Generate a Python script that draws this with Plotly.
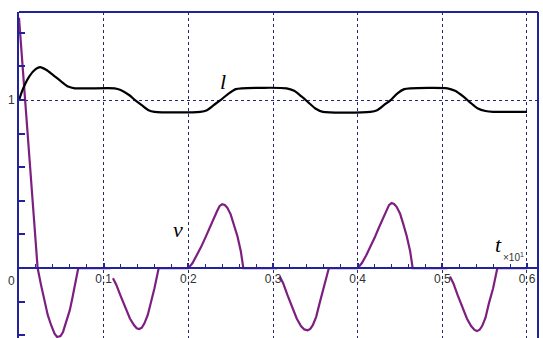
import plotly.graph_objects as go

# ---- data ----
l_t = [0.0, 0.005, 0.012, 0.02, 0.025, 0.032, 0.04, 0.05, 0.058, 0.066,
       0.113, 0.12, 0.13, 0.137, 0.145, 0.153, 0.16,
       0.214, 0.222, 0.23, 0.238, 0.248, 0.256, 0.263,
       0.316, 0.325, 0.334, 0.342, 0.35, 0.359,
       0.415, 0.423, 0.431, 0.439, 0.447, 0.455, 0.462,
       0.506, 0.515, 0.525, 0.533, 0.542, 0.551, 0.56, 0.6]
l_v = [1.0, 1.07, 1.14, 1.185, 1.196, 1.18, 1.15, 1.11, 1.08, 1.07,
       1.07, 1.06, 1.03, 1.0, 0.97, 0.94, 0.93,
       0.93, 0.94, 0.97, 1.0, 1.04, 1.065, 1.07,
       1.07, 1.055, 1.02, 0.985, 0.95, 0.93,
       0.93, 0.94, 0.97, 1.0, 1.04, 1.065, 1.07,
       1.07, 1.055, 1.02, 0.985, 0.95, 0.935, 0.93, 0.93]

v_t = [0.0, 0.011, 0.022, 0.026, 0.03, 0.034, 0.038, 0.042, 0.045, 0.049, 0.052,
       0.056, 0.06, 0.063, 0.066, 0.07, 0.108,
       None,
       0.111, 0.115, 0.12, 0.126, 0.131, 0.136, 0.139, 0.142, 0.145, 0.148, 0.152,
       0.156, 0.16, 0.165,
       0.2, 0.205, 0.21, 0.215, 0.22, 0.225, 0.23, 0.234, 0.237, 0.24, 0.243, 0.246,
       0.25, 0.254, 0.258, 0.262, 0.265, 0.305,
       None,
       0.308, 0.312, 0.317, 0.323, 0.328, 0.333, 0.337, 0.341, 0.344, 0.347, 0.351,
       0.355, 0.36, 0.366,
       0.4, 0.405, 0.41, 0.415, 0.42, 0.425, 0.43, 0.434, 0.437, 0.44, 0.443, 0.446,
       0.45, 0.454, 0.458, 0.462, 0.465, 0.506,
       None,
       0.509, 0.513, 0.518, 0.524, 0.529, 0.534, 0.538, 0.541, 0.544, 0.547, 0.551,
       0.555, 0.56, 0.565, 0.6]
v_v = [1.49, 0.74, 0.0, -0.1, -0.2, -0.28, -0.34, -0.39, -0.41, -0.405, -0.38,
       -0.32, -0.25, -0.18, -0.1, 0.0, 0.0,
       None,
       -0.06, -0.1, -0.165, -0.24, -0.3, -0.34, -0.358, -0.363, -0.355, -0.33, -0.28,
       -0.2, -0.12, 0.0,
       0.0, 0.03, 0.075, 0.125, 0.18, 0.24, 0.30, 0.34, 0.37, 0.38, 0.375, 0.36,
       0.32, 0.26, 0.19, 0.1, 0.0, 0.0,
       None,
       -0.05, -0.09, -0.16, -0.24, -0.3, -0.345, -0.365, -0.37, -0.362, -0.34, -0.29,
       -0.21, -0.12, 0.0,
       0.0, 0.03, 0.075, 0.125, 0.18, 0.24, 0.30, 0.345, 0.375, 0.387, 0.382, 0.365,
       0.325, 0.26, 0.19, 0.1, 0.0, 0.0,
       None,
       -0.05, -0.09, -0.16, -0.24, -0.3, -0.345, -0.368, -0.375, -0.367, -0.345, -0.295,
       -0.21, -0.12, 0.0, 0.0]

x_tickvals = [0.1, 0.2, 0.3, 0.4, 0.5, 0.6]
x_ticktext = ["0.1", "0.2", "0.3", "0.4", "0.5", "0.6"]
y_tickvals = [1]
y_ticktext = ["1"]

AXIS = "#22229a"
GRID = "#26266e"
PURPLE = "#7d1f80"

x_range = [0, 0.613]
y_range = [-0.416, 1.524]
x_pos = (0 - y_range[0]) / (y_range[1] - y_range[0])

fig = go.Figure()
fig.add_trace(go.Scatter(x=v_t, y=v_v, mode="lines",
                         line=dict(color=PURPLE, width=2.2), connectgaps=False))
fig.add_trace(go.Scatter(x=l_t, y=l_v, mode="lines",
                         line=dict(color="black", width=2.2, shape="spline", smoothing=0.7)))

fig.update_layout(
    width=543, height=338,
    margin=dict(l=19, r=5, t=12, b=0),
    paper_bgcolor="white", plot_bgcolor="white",
    showlegend=False,
    font=dict(family="Liberation Sans, Arial", size=12, color="#333333"),
    xaxis=dict(range=x_range, anchor="free", position=x_pos,
               tickmode="array", tickvals=x_tickvals, ticktext=x_ticktext,
               showline=True, linecolor=AXIS, linewidth=2,
               ticks="inside", ticklen=4, tickcolor=AXIS, tickwidth=1.5,
               showgrid=True, gridcolor=GRID, gridwidth=1, griddash="3px,3px",
               zeroline=False, automargin=False,
               minor=dict(tickmode="linear", tick0=0, dtick=0.02, ticks="inside",
                          ticklen=3, tickcolor=AXIS, tickwidth=1.2, showgrid=False)),
    yaxis=dict(range=y_range,
               tickmode="array", tickvals=y_tickvals, ticktext=y_ticktext,
               showline=True, linecolor=AXIS, linewidth=2,
               ticks="", showgrid=True, gridcolor=GRID, gridwidth=1, griddash="3px,3px",
               zeroline=False, automargin=False,
               minor=dict(tickmode="linear", tick0=0, dtick=0.2, ticks="inside",
                          ticklen=6, tickcolor=AXIS, tickwidth=1.5, showgrid=False)),
    shapes=[
        dict(type="line", xref="paper", yref="paper", x0=0, x1=1, y0=1, y1=1,
             line=dict(color=AXIS, width=2)),
        dict(type="line", xref="paper", yref="paper", x0=1, x1=1, y0=0, y1=1,
             line=dict(color=AXIS, width=2)),
    ],
)

serif = dict(family="Liberation Serif, Times New Roman", size=22, color="black")
fig.add_annotation(x=0.241, y=1.11, text="<i>l</i>", showarrow=False, font=serif)
fig.add_annotation(x=0.188, y=0.23, text="<i>v</i>", showarrow=False, font=serif)
fig.add_annotation(x=0.566, y=0.14, text="<i>t</i>", showarrow=False, font=serif)
fig.add_annotation(x=0.5835, y=0.065, text="×10<sup>1</sup>", showarrow=False,
                   font=dict(family="Liberation Sans, Arial", size=10, color="#333333"))
fig.add_annotation(x=0, y=0, text="0", showarrow=False, xanchor="right", yanchor="top",
                   xshift=-2, yshift=-4,
                   font=dict(family="Liberation Sans, Arial", size=12, color="#333333"))

fig.write_html("out.html", config={"displayModeBar": False},
               post_script="document.body.style.margin='0';document.body.style.padding='0';")
